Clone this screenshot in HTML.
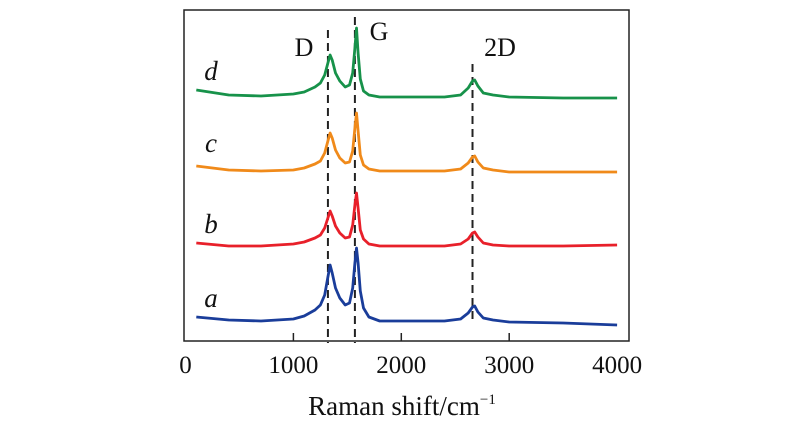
<!DOCTYPE html>
<html><head><meta charset="utf-8"><style>
html,body{margin:0;padding:0;background:#fff;}
svg{display:block;font-family:"Liberation Serif",serif;}
</style></head><body>
<svg id="chart" width="800" height="442">
<rect x="184" y="10" width="445" height="331" fill="none" stroke="#222" stroke-width="1.5"/>
<g id="ticks"></g>
<g id="dashes"></g>
<g id="series"></g>
<g id="labels"></g>
<text x="402" y="415" text-anchor="middle" font-size="27" fill="#111">Raman shift/cm<tspan font-size="15" dy="-11">−1</tspan></text>
</svg>
<script>
const xs=[100,400,700,1000,1100,1200,1250,1290,1320,1340,1360,1390,1430,1480,1520,1550,1570,1585,1600,1620,1650,1700,1800,2000,2400,2550,2620,2660,2680,2710,2760,2850,3000,3500,4000];
const seriesA=[26,23,22,24,27,33,38,48,66,78,70,55,45,38,40,55,80,95,80,52,35,26,22,22,22,24,30,36,37,31,25,23,21,20,18];
const seriesB=[100,97,97,99,101,105,108,115,125,132,127,117,110,105,106,118,138,150,135,113,104,99,97,97,97,99,104,110,111,106,100,98,97,97,98];
const seriesC=[177,173,172,173,175,179,182,190,202,210,205,193,185,180,181,192,215,230,212,188,178,174,172,172,172,174,180,186,187,181,175,173,171,171,171];
const seriesD=[253,248,247,249,251,256,260,268,280,288,283,270,262,256,258,270,295,315,290,264,252,248,246,246,246,248,255,262,263,257,250,248,246,245,245];
const seriesNames=["a","b","c","d"];
const xTicks=[0,1000,2000,3000,4000];
const peakPositions=[1320,1570,2660];
const peakNames=["D","G","2D"];
const NS="http://www.w3.org/2000/svg";
const X=v=>185.5+v*0.1079;
const Y=v=>343-v;
function mk(t,a,p){const e=document.createElementNS(NS,t);for(const k in a)e.setAttribute(k,a[k]);p.appendChild(e);return e;}
const tg=document.getElementById('ticks');
xTicks.forEach(t=>{
  if(t>0&&t<4000){const l=mk('line',{x1:X(t),x2:X(t),y1:341,y2:333,stroke:'#222','stroke-width':1.5},tg);
  
  }
  const tx=mk('text',{x:X(t),y:373,'text-anchor':'middle','font-size':25,fill:'#111'},tg);tx.textContent=t;
  
  
});
const dg=document.getElementById('dashes');
const dTop=[30,17,64],dBot=[343,343,322];
const lblPos=[[304,56],[379,40],[500,56]];
peakPositions.forEach((p,i)=>{
  const l=mk('line',{x1:X(p),x2:X(p),y1:dTop[i],y2:dBot[i],stroke:'#222','stroke-width':2,'stroke-dasharray':'8,5'},dg);
  
  
  const t=mk('text',{x:lblPos[i][0],y:lblPos[i][1],'text-anchor':'middle','font-size':26,fill:'#111'},dg);t.textContent=peakNames[i];
  
  
});
const sg=document.getElementById('series');
const all=[seriesA,seriesB,seriesC,seriesD];
const colors=['#1a3d9a','#e8202a','#f08a1a','#17924a'];
const lblY=[307,233,152,80];
all.forEach((s,i)=>{
  const d=s.map((v,j)=>(j?'L':'M')+X(xs[j]).toFixed(1)+','+Y(v).toFixed(1)).join('');
  const p=mk('path',{d:d,fill:'none',stroke:colors[i],'stroke-width':2.8,'stroke-linejoin':'round'},sg);
  
  
  const t=mk('text',{x:211,y:lblY[i],'text-anchor':'middle','font-size':27,'font-style':'italic',fill:'#111'},sg);t.textContent=seriesNames[i];
  
  
});
</script>
</body></html>
